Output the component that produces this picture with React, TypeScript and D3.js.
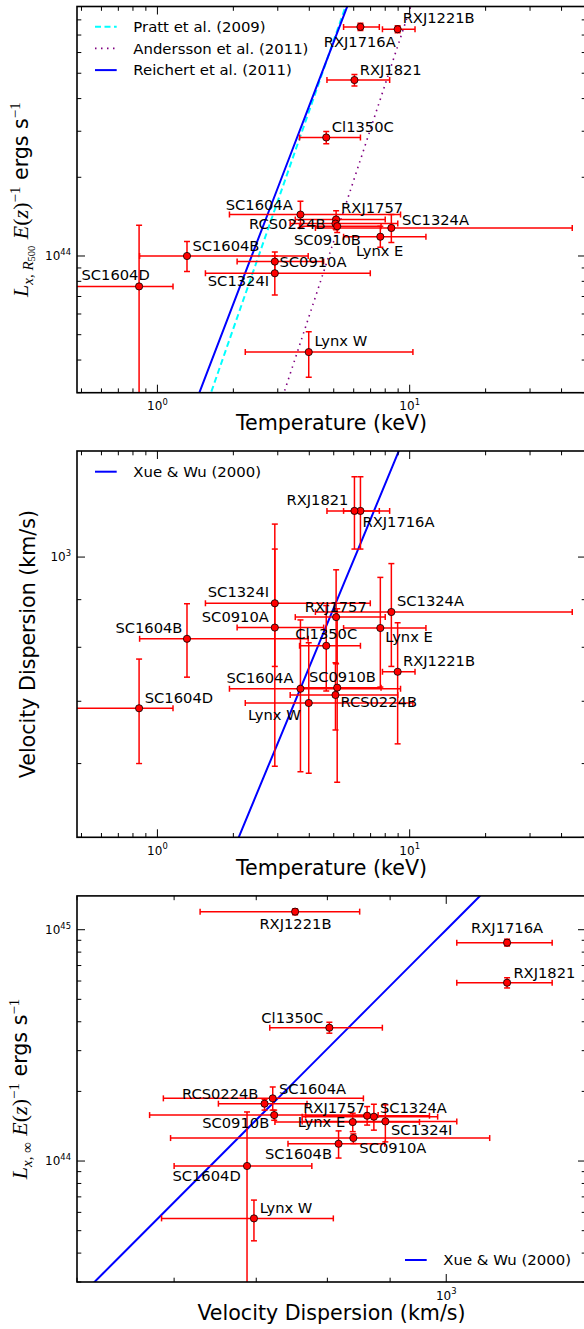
import React from 'react';
import * as d3 from 'd3';

// cluster names, in the same order as every array below
const clusters = [
  'RXJ1221B', 'RXJ1716A', 'RXJ1821', 'Cl1350C', 'SC1604A', 'RXJ1757', 'RCS0224B', 'SC1324A',
  'SC0910B', 'Lynx E', 'SC1604B', 'SC0910A', 'SC1324I', 'SC1604D', 'Lynx W',
];

// X-ray temperature (keV)
const temperature = [8.96, 6.38, 6.04, 4.67, 3.69, 5.11, 5.08, 8.46, 5.16, 7.65, 1.31, 2.92, 2.92, 0.846, 3.98];
const temperatureLow = [7.8, 5.47, 4.7, 3.66, 1.93, 3.52, 3.36, 4.23, 3.66, 5.47, 0.85, 2.07, 1.55, 0.3, 2.23];
const temperatureHigh = [10.5, 7.58, 8.33, 6.38, 9.2, 8.0, 8.97, 44.1, 7.7, 11.6, 3.96, 4.56, 6.98, 1.153, 10.3];

// L_x within R500, units of 1e44 erg/s
const lxR500 = [7.37, 7.52, 4.71, 2.84, 1.44, 1.38, 1.33, 1.28, 1.3, 1.185, 1.0, 0.952, 0.859, 0.765, 0.429];
const lxR500Low = [7.15, 7.28, 4.47, 2.69, 1.28, 1.26, 1.27, 1.125, 1.23, 1.08, 0.872, 0.87, 0.709, 0.1, 0.344];
const lxR500High = [7.6, 7.76, 4.95, 2.99, 1.62, 1.49, 1.39, 1.44, 1.37, 1.3, 1.135, 1.036, 1.0, 1.31, 0.513];

// velocity dispersion (km/s)
const sigma = [753, 1121, 1121, 803, 722, 862, 711, 873, 724, 839, 817, 840, 892, 688, 697];
const sigmaLow = [630, 1020, 1020, 718, 588, 768, 652, 763, 573, 725, 743, 596, 763, 600, 586];
const sigmaHigh = [850, 1220, 1220, 887, 856, 969, 770, 984, 880, 951, 891, 1085, 1020, 777, 809];

// total L_x, units of 1e44 erg/s
const lxInf = [11.97, 8.79, 5.9, 3.77, 1.866, 1.57, 1.77, 1.555, 1.58, 1.474, 1.188, 1.257, 1.484, 0.952, 0.565];
const lxInfLow = [11.6, 8.5, 5.6, 3.57, 1.66, 1.43, 1.66, 1.36, 1.5, 1.34, 1.03, 1.19, 1.21, 0.1, 0.452];
const lxInfHigh = [12.3, 9.1, 6.2, 3.98, 2.09, 1.72, 1.85, 1.76, 1.66, 1.61, 1.35, 1.31, 1.75, 1.63, 0.678];

// scaling relations: value = norm * (x / pivot) ^ slope
const prattLT = { norm: 6.68, pivot: 5, slope: 2.77 };
const anderssonLT = { norm: 1.14, pivot: 5, slope: 2.94 };
const reichertLT = { norm: 6.6, pivot: 5, slope: 2.52 };
const xueWuST = { norm: 307.7, pivot: 1, slope: 0.654 };
const xueWuLS = { norm: 10.0, pivot: 1000, slope: 5.31 };

// label offsets (px) from each point, per panel
const labelOffsetsLT = [
  [5, -5.7], [-36.7, 20], [5.3, -5], [5.6, -5.4], [-74.7, -5], [5, -6.7], [-86.4, 5], [10.6, -3.3],
  [-43.3, 18.6], [-24.4, 19.7], [5.4, -5], [4.7, 5.7], [-67, 13], [-57.6, -6.3], [5.7, -6.3],
];
const labelOffsetsST = [
  [5.3, -6], [2, 15.7], [-68, -6], [-31, -6.3], [-74, -6], [-31.3, -5.6], [5, 12.4], [5.6, -6.3],
  [-28.3, -5.6], [5, 14.4], [-71.6, -5.7], [-73, -6], [-67, -6.4], [5.7, -5.6], [-60.7, 16.7],
];
const labelOffsetsLS = [
  [-35.7, 17.3], [-36, -9.7], [6.3, -4.7], [-68, -4.7], [6.3, -4.3], [-64, -2.7], [-82.6, -5], [6, -4],
  [-72, 13.3], [-55, 5], [-73.6, 15.6], [6, 15.3], [5.7, 14], [-74.6, 15], [5.7, -5],
];

const LEFT = 77;
const RIGHT = 586;
const RED = '#ff0000';
const CAP = 3;
const SANS = 'DejaVu Sans, sans-serif';
const MATH = 'Liberation Serif, DejaVu Serif, serif';

type Relation = { norm: number; pivot: number; slope: number; color: string; dash?: string; width: number; name: string };

interface PanelProps {
  id: string;
  top: number;
  bottom: number;
  xDomain: [number, number];
  yDomain: [number, number];
  yExponentShift: number;
  xs: number[];
  xLo: number[];
  xHi: number[];
  ys: number[];
  yLo: number[];
  yHi: number[];
  offsets: number[][];
  relations: Relation[];
  legendX: number;
  legendY: number;
  xLabel: string;
  yLabel: React.ReactNode;
  yLabelX: number;
}

const isDecade = (v: number) => Math.abs(Math.log10(v) - Math.round(Math.log10(v))) < 1e-9;

const Panel = (p: PanelProps) => {
  const x = d3.scaleLog().domain(p.xDomain).range([LEFT, RIGHT]);
  const y = d3.scaleLog().domain(p.yDomain).range([p.bottom, p.top]);
  const xTicks = x.ticks();
  const yTicks = y.ticks();

  const samples = d3.range(0, 41).map((i) => p.xDomain[0] * Math.pow(p.xDomain[1] / p.xDomain[0], i / 40));
  const line = (r: Relation) =>
    d3
      .line<number>()
      .x((d) => x(d))
      .y((d) => y(r.norm * Math.pow(d / r.pivot, r.slope)))(samples) as string;

  const cy = (p.top + p.bottom) / 2;
  const cx = (LEFT + RIGHT) / 2;

  return (
    <g>
      <defs>
        <clipPath id={p.id}>
          <rect x={LEFT} y={p.top} width={RIGHT - LEFT} height={p.bottom - p.top} />
        </clipPath>
      </defs>

      <g clipPath={`url(#${p.id})`}>
        {p.relations.map((r) => (
          <path key={r.name} d={line(r)} fill="none" stroke={r.color} strokeWidth={r.width} strokeDasharray={r.dash} />
        ))}
        {p.xs.map((_, i) => {
          const px = x(p.xs[i]);
          const py = y(p.ys[i]);
          const x0 = x(p.xLo[i]);
          const x1 = x(p.xHi[i]);
          const y0 = y(p.yLo[i]);
          const y1 = y(p.yHi[i]);
          return (
            <g key={i} stroke={RED} strokeWidth={1.5}>
              <line x1={x0} x2={x1} y1={py} y2={py} />
              <line x1={x0} x2={x0} y1={py - CAP} y2={py + CAP} />
              <line x1={x1} x2={x1} y1={py - CAP} y2={py + CAP} />
              <line x1={px} x2={px} y1={y0} y2={y1} />
              <line x1={px - CAP} x2={px + CAP} y1={y0} y2={y0} />
              <line x1={px - CAP} x2={px + CAP} y1={y1} y2={y1} />
            </g>
          );
        })}
        {p.xs.map((_, i) => (
          <circle key={i} cx={x(p.xs[i])} cy={y(p.ys[i])} r={3.6} fill={RED} stroke="#000" strokeWidth={0.8} />
        ))}
      </g>

      {p.xs.map((_, i) => (
        <text
          key={i}
          x={x(p.xs[i]) + p.offsets[i][0]}
          y={y(p.ys[i]) + p.offsets[i][1]}
          fontFamily={SANS}
          fontSize={14.7}
          fill="#000"
        >
          {clusters[i]}
        </text>
      ))}

      {/* ticks, inward on all four sides */}
      <g stroke="#000" strokeWidth={1}>
        {xTicks.map((t) => {
          const len = isDecade(t) ? 8 : 4.3;
          return (
            <g key={`x${t}`}>
              <line x1={x(t)} x2={x(t)} y1={p.bottom} y2={p.bottom - len} />
              <line x1={x(t)} x2={x(t)} y1={p.top} y2={p.top + len} />
            </g>
          );
        })}
        {yTicks.map((t) => {
          const len = isDecade(t) ? 8 : 4.3;
          return (
            <g key={`y${t}`}>
              <line x1={LEFT} x2={LEFT + len} y1={y(t)} y2={y(t)} />
              <line x1={RIGHT} x2={RIGHT - len} y1={y(t)} y2={y(t)} />
            </g>
          );
        })}
      </g>
      <rect x={LEFT} y={p.top} width={RIGHT - LEFT} height={p.bottom - p.top} fill="none" stroke="#000" strokeWidth={1.6} />

      {xTicks.filter(isDecade).map((t) => (
        <text key={`xl${t}`} x={x(t)} y={p.bottom + 17.5} textAnchor="middle" fontFamily={SANS} fontSize={12}>
          10
          <tspan dy={-5.5} fontSize={8.4}>
            {Math.round(Math.log10(t))}
          </tspan>
        </text>
      ))}
      {yTicks.filter(isDecade).map((t) => (
        <text key={`yl${t}`} x={71} y={y(t) + 4.4} textAnchor="end" fontFamily={SANS} fontSize={12}>
          10
          <tspan dy={-5.5} fontSize={8.4}>
            {Math.round(Math.log10(t)) + p.yExponentShift}
          </tspan>
        </text>
      ))}

      {p.relations.map((r, i) => {
        const ly = p.legendY + i * 21.7;
        return (
          <g key={`lg${r.name}`}>
            <line x1={p.legendX} x2={p.legendX + 21.7} y1={ly} y2={ly} stroke={r.color} strokeWidth={r.width} strokeDasharray={r.dash} />
            <text x={p.legendX + 38.3} y={ly + 5.2} fontFamily={SANS} fontSize={14.9}>
              {r.name}
            </text>
          </g>
        );
      })}

      <text x={cx} y={p.bottom + 37.5} textAnchor="middle" fontFamily={SANS} fontSize={20.6}>
        {p.xLabel}
      </text>
      <text transform={`translate(${p.yLabelX},${cy}) rotate(-90)`} textAnchor="middle" fontSize={20.6} fontFamily={SANS}>
        {p.yLabel}
      </text>
    </g>
  );
};

const lumLabel = (sub: React.ReactNode) => (
  <>
    <tspan fontFamily={MATH} fontStyle="italic" fontSize={22}>L</tspan>
    {sub}
    <tspan fontFamily={MATH} fontStyle="italic" fontSize={22}>{'\u2009E'}</tspan>
    <tspan fontFamily={MATH} fontSize={22}>(</tspan>
    <tspan fontFamily={MATH} fontStyle="italic" fontSize={22}>z</tspan>
    <tspan fontFamily={MATH} fontSize={22}>)</tspan>
    <tspan fontFamily={MATH} fontSize={15} dy={-8.5}>{'\u22121'}</tspan>
    <tspan dy={8.5}>{' ergs s'}</tspan>
    <tspan fontFamily={MATH} fontSize={15} dy={-8.5}>{'\u22121'}</tspan>
  </>
);

const yLabelLT = lumLabel(
  <>
    <tspan fontFamily={MATH} fontStyle="italic" fontSize={15} dy={4.5}>{'x, R'}</tspan>
    <tspan fontFamily={MATH} fontSize={10.5} dy={2.5}>500</tspan>
    <tspan dy={-7}>{'\u200a'}</tspan>
  </>
);

const yLabelLS = lumLabel(
  <>
    <tspan fontFamily={MATH} fontStyle="italic" fontSize={15} dy={4.5}>{'x, '}</tspan>
    <tspan fontFamily={MATH} fontSize={15}>{'\u221e'}</tspan>
    <tspan dy={-4.5}>{'\u200a'}</tspan>
  </>
);

export default function App() {
  return (
    <svg width={584} height={1329} style={{ position: 'absolute', left: 0, top: 0, background: '#fff' }}>
      <rect width={584} height={1329} fill="#fff" />
      <Panel
        id="clip-lt"
        top={6.5}
        bottom={392.7}
        xDomain={[0.48, 50]}
        yDomain={[0.3, 9]}
        yExponentShift={44}
        xs={temperature}
        xLo={temperatureLow}
        xHi={temperatureHigh}
        ys={lxR500}
        yLo={lxR500Low}
        yHi={lxR500High}
        offsets={labelOffsetsLT}
        relations={[
          { ...prattLT, color: '#00ffff', dash: '6,3.5', width: 2, name: 'Pratt et al. (2009)' },
          { ...anderssonLT, color: '#800080', dash: '1.5,4.5', width: 1.6, name: 'Andersson et al. (2011)' },
          { ...reichertLT, color: '#0000ff', width: 2, name: 'Reichert et al. (2011)' },
        ]}
        legendX={95}
        legendY={26.7}
        xLabel="Temperature (keV)"
        yLabel={yLabelLT}
        yLabelX={28}
      />
      <Panel
        id="clip-st"
        top={451}
        bottom={837.3}
        xDomain={[0.48, 50]}
        yDomain={[500, 1300]}
        yExponentShift={0}
        xs={temperature}
        xLo={temperatureLow}
        xHi={temperatureHigh}
        ys={sigma}
        yLo={sigmaLow}
        yHi={sigmaHigh}
        offsets={labelOffsetsST}
        relations={[{ ...xueWuST, color: '#0000ff', width: 2, name: 'Xue & Wu (2000)' }]}
        legendX={95}
        legendY={471.7}
        xLabel="Temperature (keV)"
        yLabel="Velocity Dispersion (km/s)"
        yLabelX={35}
      />
      <Panel
        id="clip-ls"
        top={895.9}
        bottom={1282}
        xDomain={[500, 1300]}
        yDomain={[0.3, 14]}
        yExponentShift={44}
        xs={sigma}
        xLo={sigmaLow}
        xHi={sigmaHigh}
        ys={lxInf}
        yLo={lxInfLow}
        yHi={lxInfHigh}
        offsets={labelOffsetsLS}
        relations={[{ ...xueWuLS, color: '#0000ff', width: 2, name: 'Xue & Wu (2000)' }]}
        legendX={405}
        legendY={1260}
        xLabel="Velocity Dispersion (km/s)"
        yLabel={yLabelLS}
        yLabelX={27}
      />
    </svg>
  );
}
